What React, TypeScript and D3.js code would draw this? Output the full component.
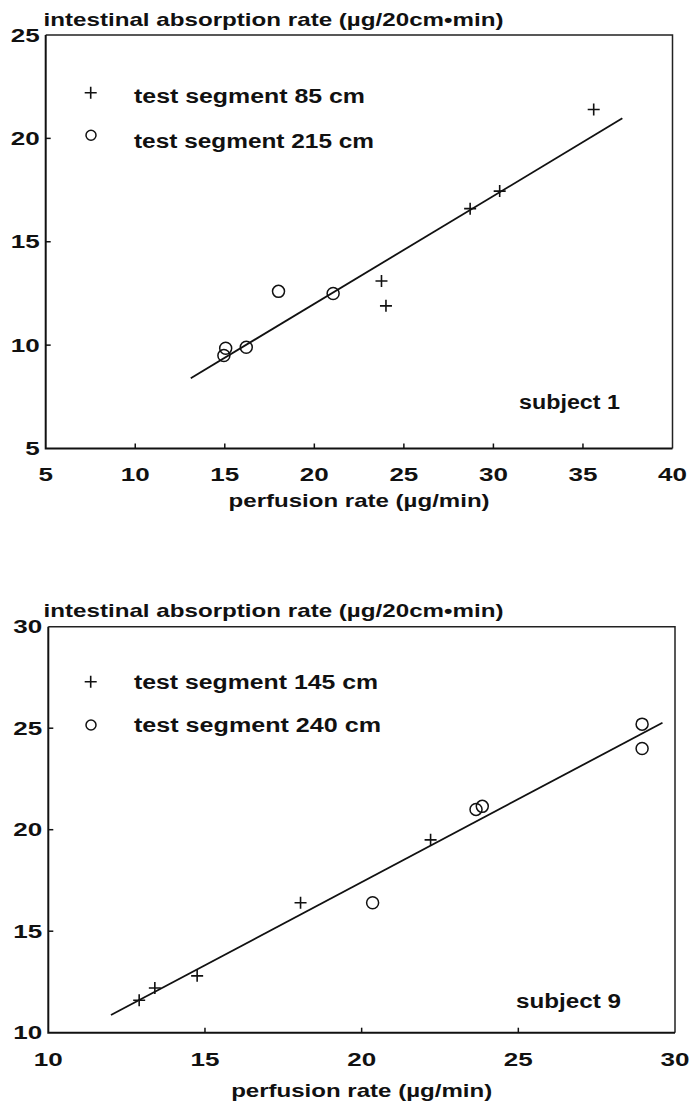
import React from 'react';
import * as d3 from 'd3';

// ---------- data: subject 1 ----------
const s1PlusX = [23.75, 24.0, 28.7, 30.35, 35.6];
const s1PlusY = [13.1, 11.9, 16.6, 17.45, 21.4];
const s1CircX = [14.95, 15.05, 16.2, 18.0, 21.05];
const s1CircY = [9.5, 9.85, 9.9, 12.6, 12.5];
const s1FitX = [13.1, 37.2];
const s1FitY = [8.4, 20.97];
const s1XTicks = [5, 10, 15, 20, 25, 30, 35, 40];
const s1YTicks = [5, 10, 15, 20, 25];
const s1Legend = ['test segment 85 cm', 'test segment 215 cm'];
const s1Subject = 'subject 1';

// ---------- data: subject 9 ----------
const s9PlusX = [12.9, 13.4, 14.75, 18.05, 22.2];
const s9PlusY = [11.6, 12.2, 12.8, 16.4, 19.5];
const s9CircX = [20.35, 23.65, 23.85, 28.95, 28.95];
const s9CircY = [16.4, 21.0, 21.15, 25.2, 24.0];
const s9FitX = [12.0, 29.6];
const s9FitY = [10.87, 25.27];
const s9XTicks = [10, 15, 20, 25, 30];
const s9YTicks = [10, 15, 20, 25, 30];
const s9Legend = ['test segment 145 cm', 'test segment 240 cm'];
const s9Subject = 'subject 9';

const yTitle = 'intestinal absorption rate (µg/20cm•min)';
const xTitle = 'perfusion rate (µg/min)';

const FONT = "'Liberation Sans', Arial, Helvetica, sans-serif";

function T(props: any) {
  const { x, y, anchor = 'start', size = 18.6, len, children } = props;
  return (
    <text
      x={x}
      y={y}
      textAnchor={anchor}
      fontSize={size}
      fontFamily={FONT}
      fontWeight="bold"
      fill="#111"
      textLength={len}
      lengthAdjust="spacingAndGlyphs"
    >
      {children}
    </text>
  );
}

function Num(props: any) {
  const { x, y, anchor = 'middle', children } = props;
  return (
    <text
      transform={`translate(${x},${y}) scale(1.4,1)`}
      textAnchor={anchor}
      fontSize={18.6}
      fontFamily={FONT}
      fontWeight="bold"
      fill="#111"
    >
      {children}
    </text>
  );
}

function Plus({ x, y, s = 6 }: any) {
  return (
    <path
      d={`M${x - s},${y}H${x + s}M${x},${y - s}V${y + s}`}
      stroke="#111"
      strokeWidth={1.6}
      fill="none"
    />
  );
}

function Circ({ x, y, r = 6 }: any) {
  return <circle cx={x} cy={y} r={r} stroke="#111" strokeWidth={1.5} fill="none" />;
}

function Panel(p: any) {
  const x = d3.scaleLinear().domain(p.xDomain).range(p.xRange);
  const y = d3.scaleLinear().domain(p.yDomain).range(p.yRange);
  const [x0, x1] = p.xRange;
  const [y0, y1] = p.yRange; // y0 bottom, y1 top
  const line = d3
    .line<number>()
    .x((d) => x(p.fitX[d]))
    .y((d) => y(p.fitY[d]));
  const tick = 5;
  return (
    <g>
      {/* frame */}
      <path d={`M${x0},${y1}H${x1}V${y0}`} stroke="#222" strokeWidth={1.5} fill="none" />
      <path d={`M${x0},${y1}V${y0}H${x1}`} stroke="#111" strokeWidth={2} fill="none" />
      {/* ticks */}
      {p.xTicks.slice(1, -1).map((t: number) => (
        <line key={'xt' + t} x1={x(t)} x2={x(t)} y1={y0} y2={y0 - tick} stroke="#111" strokeWidth={1.5} />
      ))}
      {p.yTicks.slice(1, -1).map((t: number) => (
        <line key={'yt' + t} x1={x0} x2={x0 + tick} y1={y(t)} y2={y(t)} stroke="#111" strokeWidth={1.5} />
      ))}
      {/* tick labels */}
      {p.xTicks.map((t: number) => (
        <Num key={'xl' + t} x={x(t)} y={p.xTickBase}>
          {t}
        </Num>
      ))}
      {p.yTicks.map((t: number) => (
        <Num key={'yl' + t} x={x0 - 6} y={y(t) + 6.6} anchor="end">
          {t}
        </Num>
      ))}
      {/* titles */}
      <T x={p.titleX} y={p.titleBase} size={18.5} len={460}>
        {yTitle}
      </T>
      <T x={(x0 + x1) / 2} y={p.xTitleBase} size={18.5} anchor="middle" len={261}>
        {xTitle}
      </T>
      {/* regression line */}
      <path d={line([0, 1]) || ''} stroke="#111" strokeWidth={1.8} fill="none" />
      {/* points */}
      {p.circX.map((v: number, i: number) => (
        <Circ key={'c' + i} x={x(v)} y={y(p.circY[i])} />
      ))}
      {p.plusX.map((v: number, i: number) => (
        <Plus key={'p' + i} x={x(v)} y={y(p.plusY[i])} />
      ))}
      {/* legend */}
      <Plus x={90.7} y={p.leg1Y} s={6} />
      <T x={134} y={p.leg1Base} size={19.5} len={p.leg1Len}>
        {p.legend[0]}
      </T>
      <Circ x={91} y={p.leg2Y} r={5} />
      <T x={134} y={p.leg2Base} size={19.5} len={p.leg2Len}>
        {p.legend[1]}
      </T>
      <T x={p.subjX} y={p.subjBase} size={19.5} anchor="end" len={p.subjLen}>
        {p.subject}
      </T>
    </g>
  );
}

export default function App() {
  return (
    <svg
      width={690}
      height={1104}
      style={{ position: 'absolute', left: 0, top: 0, background: '#fff' }}
    >
      <rect width={690} height={1104} fill="#fff" />
      <Panel
        xDomain={[5, 40]}
        xRange={[45.7, 672.5]}
        yDomain={[5, 25]}
        yRange={[448.5, 35]}
        xTicks={s1XTicks}
        yTicks={s1YTicks}
        plusX={s1PlusX}
        plusY={s1PlusY}
        circX={s1CircX}
        circY={s1CircY}
        fitX={s1FitX}
        fitY={s1FitY}
        legend={s1Legend}
        subject={s1Subject}
        titleX={43.5}
        titleBase={25.5}
        xTickBase={481}
        xTitleBase={507}
        leg1Y={92.7}
        leg1Base={102.8}
        leg2Y={135.3}
        leg2Base={147.5}
        leg1Len={231}
        leg2Len={240}
        subjX={620}
        subjBase={409}
        subjLen={101}
      />
      <Panel
        xDomain={[10, 30]}
        xRange={[48.3, 675]}
        yDomain={[10, 30]}
        yRange={[1032.7, 626.7]}
        xTicks={s9XTicks}
        yTicks={s9YTicks}
        plusX={s9PlusX}
        plusY={s9PlusY}
        circX={s9CircX}
        circY={s9CircY}
        fitX={s9FitX}
        fitY={s9FitY}
        legend={s9Legend}
        subject={s9Subject}
        titleX={43.5}
        titleBase={617}
        xTickBase={1066}
        xTitleBase={1097}
        leg1Y={681.7}
        leg1Base={688.5}
        leg2Y={725}
        leg2Base={732}
        leg1Len={244}
        leg2Len={247}
        subjX={621}
        subjBase={1007.5}
        subjLen={105}
      />
    </svg>
  );
}
